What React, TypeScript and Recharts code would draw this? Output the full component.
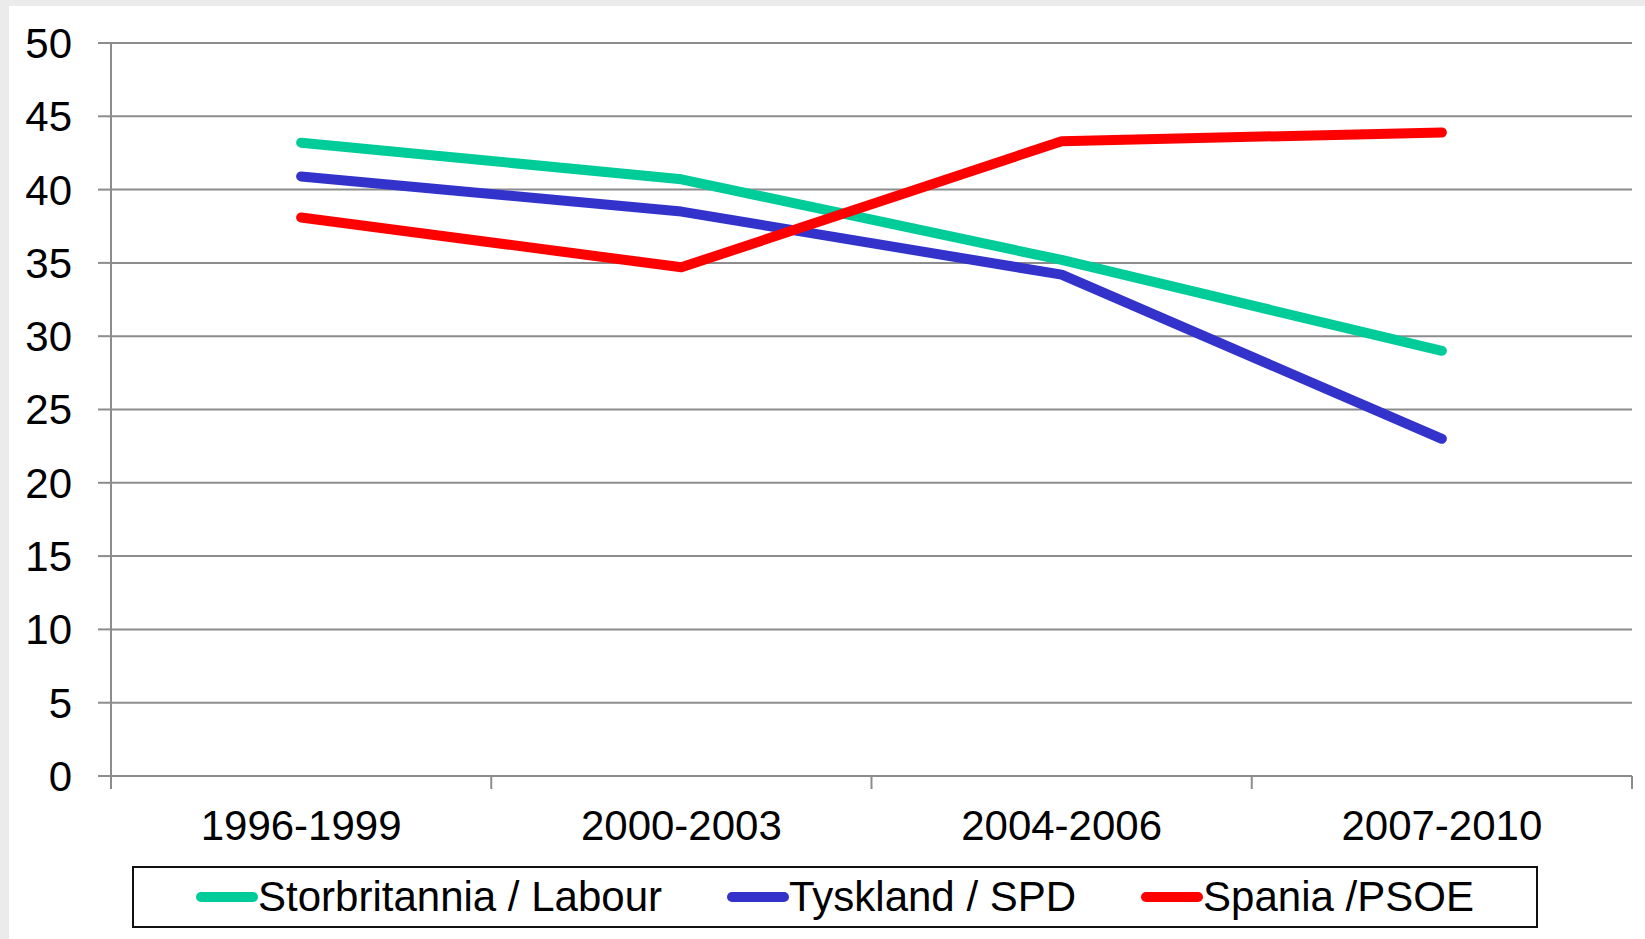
import { CartesianGrid, Legend, Line, LineChart, XAxis, YAxis } from "recharts";

const periods = ["1996-1999", "2000-2003", "2004-2006", "2007-2010"];
const labour = [43.2, 40.7, 35.2, 29.0];
const spd = [40.9, 38.5, 34.2, 23.0];
const psoe = [38.1, 34.7, 43.3, 43.9];
const yTicks = [0, 5, 10, 15, 20, 25, 30, 35, 40, 45, 50];

const seriesInfo = [
  { key: "labour", name: "Storbritannia / Labour", color: "#00CC99" },
  { key: "spd", name: "Tyskland / SPD", color: "#3333CC" },
  { key: "psoe", name: "Spania /PSOE", color: "#FF0000" },
];

const data = periods.map((p, i) => ({
  period: p,
  labour: labour[i],
  spd: spd[i],
  psoe: psoe[i],
}));

const FONT = "'Liberation Sans', Arial, sans-serif";
const GRID = "#8c8c8c";
const LABEL_GAP = 34;

// category label plus Excel-style tick marks between the categories
function PeriodTick(props: any) {
  const { x, y, payload, index, visibleTicksCount, width } = props;
  const half = payload?.offset || (width ? width / visibleTicksCount / 2 : 0);
  const axisY = y - LABEL_GAP;
  return (
    <g>
      <line x1={x - half} x2={x - half} y1={axisY} y2={axisY + 13} stroke={GRID} strokeWidth={2} />
      {index === visibleTicksCount - 1 && (
        <line x1={x + half} x2={x + half} y1={axisY} y2={axisY + 13} stroke={GRID} strokeWidth={2} />
      )}
      <text x={x} y={y} dy="0.71em" textAnchor="middle" fill="#000" fontSize={42} fontFamily={FONT}>
        {payload.value}
      </text>
    </g>
  );
}

function LegendBox() {
  return (
    <div
      style={{
        boxSizing: "border-box",
        border: "2px solid #111",
        height: 62,
        display: "flex",
        alignItems: "center",
        justifyContent: "center",
        gap: 65,
        fontFamily: FONT,
        fontSize: 42,
        color: "#000",
      }}
    >
      {seriesInfo.map((s) => (
        <div key={s.key} style={{ display: "flex", alignItems: "center" }}>
          <svg width={62} height={14}>
            <line x1={5} y1={7} x2={57} y2={7} stroke={s.color} strokeWidth={10} strokeLinecap="round" />
          </svg>
          <span style={{ lineHeight: "42px" }}>{s.name}</span>
        </div>
      ))}
    </div>
  );
}

export default function App() {
  return (
    <div
      style={{
        position: "absolute",
        left: 0,
        top: 0,
        width: 1645,
        height: 939,
        background: "#ebebeb",
        overflow: "hidden",
      }}
    >
      <div style={{ position: "absolute", left: 9, top: 6, width: 1636, height: 933, background: "#fff" }}>
        <LineChart
          width={1636}
          height={933}
          data={data}
          margin={{ top: 37, right: 13, left: 0, bottom: 41 }}
          style={{ fontFamily: FONT }}
        >
          <CartesianGrid vertical={false} stroke={GRID} strokeWidth={2} />
          <XAxis
            dataKey="period"
            scale="band"
            tickLine={false}
            axisLine={false}
            tickSize={0}
            tickMargin={LABEL_GAP}
            height={60}
            interval={0}
            tick={<PeriodTick />}
          />
          <YAxis
            domain={[0, 50]}
            ticks={yTicks}
            width={102}
            tickSize={13}
            tickMargin={26}
            axisLine={{ stroke: GRID, strokeWidth: 2 }}
            tickLine={{ stroke: GRID, strokeWidth: 2 }}
            tick={{ fill: "#000", fontSize: 42, fontFamily: FONT }}
            interval={0}
          />
          <Legend
            verticalAlign="bottom"
            content={() => <LegendBox />}
            wrapperStyle={{ left: 123, top: 860, width: 1406, bottom: "auto" }}
          />
          {seriesInfo.map((s) => (
            <Line
              key={s.key}
              dataKey={s.key}
              name={s.name}
              stroke={s.color}
              strokeWidth={10}
              strokeLinecap="round"
              strokeLinejoin="round"
              dot={false}
              activeDot={false}
              isAnimationActive={false}
            />
          ))}
        </LineChart>
      </div>
    </div>
  );
}
